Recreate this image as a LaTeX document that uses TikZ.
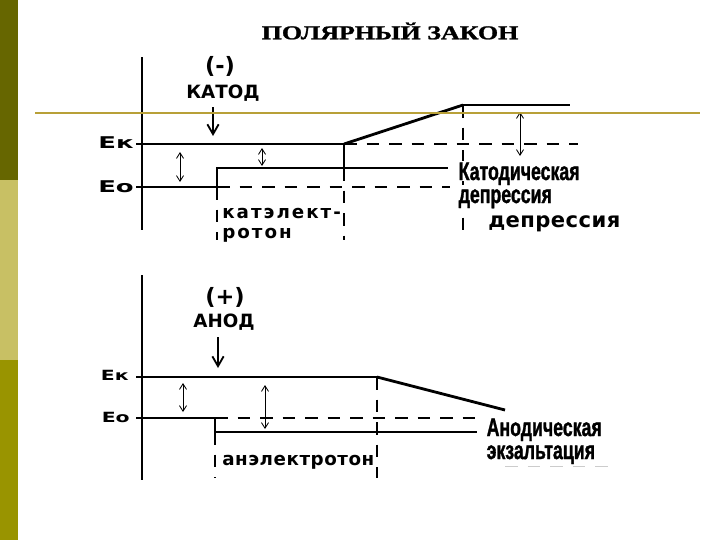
\documentclass[tikz,border=0pt]{standalone}
\usepackage{fontspec}
\usepackage{graphicx}
\setmainfont{Liberation Sans}
\newfontfamily\titlefont[FakeBold=1.2]{Liberation Serif}
\newfontfamily\widefont{DejaVu Sans}
\newfontfamily\impactfont[FakeBold=1.5]{Liberation Sans}
\usetikzlibrary{arrows.meta}

\definecolor{bardark}{RGB}{102,102,0}
\definecolor{barlight}{RGB}{200,192,100}
\definecolor{barolive}{RGB}{153,148,0}
\definecolor{rulegold}{RGB}{184,160,56}

\newcommand\stretchx[2]{\scalebox{#1}[1]{#2}}
\newcommand\heavy[1]{\scalebox{0.7}[1]{\impactfont\bfseries\fontsize{18}{18}\selectfont #1}}

\tikzset{
  level/.style={line width=1.4pt},
  slope/.style={line width=2pt},
  guide/.style={line width=0.9pt, dash pattern=on 9pt off 7pt},
  axis/.style={line width=0.8pt},
  gap/.style={{Straight Barb[length=4pt,width=5pt]}-{Straight Barb[length=4pt,width=5pt]}, line width=0.6pt},
  pole/.style={-{Straight Barb[length=7pt,width=8pt]}, line width=1.3pt},
  poletext/.style={font=\widefont\bfseries\fontsize{13}{15}\selectfont, inner sep=0pt},
  signtext/.style={font=\widefont\bfseries\fontsize{16}{16}\selectfont, inner sep=0pt},
  zonetext/.style={font=\widefont\bfseries\fontsize{13}{15}\selectfont, inner sep=0pt, anchor=base west},
  heavytext/.style={fill=white, inner sep=1pt, anchor=base west},
  axlabel/.style={inner sep=0pt, anchor=base east, font=\widefont\bfseries\fontsize{10}{10}\selectfont},
}

\begin{document}
\begin{tikzpicture}[x=0.025cm, y=-0.025cm]
\useasboundingbox (0,0) rectangle (720,540);

% side bar
\fill[bardark] (0,0) rectangle (18,180);
\fill[barlight] (0,180) rectangle (18,360);
\fill[barolive] (0,360) rectangle (18,540);

\node[inner sep=0pt] (title) at (390,31) {\stretchx{1.32}{\titlefont\bfseries\fontsize{14}{14}\selectfont ПОЛЯРНЫЙ ЗАКОН}};

%%%%% cathode
\draw[axis] (142,57)--(142,230);
\draw[axis] (136,144)--(142,144);
\draw[axis] (136,187)--(142,187);
\node[axlabel, font=\widefont\bfseries\fontsize{11.5}{12}\selectfont] (ek1) at (134,148) {\stretchx{1.6}{Eк}};
\node[axlabel, font=\widefont\bfseries\fontsize{11.5}{12}\selectfont] (eo1) at (134,192) {\stretchx{1.6}{Eо}};

\node[signtext] (minus) at (220,66) {(-)};
\node[poletext, anchor=base] (cathode) at (223,98) {КАТОД};
\coordinate (c0) at (213,107);
\coordinate (c1) at (213,136);
\draw[pole] (c0)--(c1);

\coordinate (a1) at (344,144);
\coordinate (a2) at (463,105);
\coordinate (b1) at (217,187);
\coordinate (b2) at (217,168);

\draw[guide] (a1)--(578,144);
\draw[guide] (b1)--(450,187);
\draw[guide] (b1)--(217,240);
\draw[guide] (344,168)--(344,240);
\draw[guide] (a2)--(463,237);

\draw[level] (142,144)--(a1)--(344,168);
\draw[slope] (a1)--(a2);
\draw[level] (a2)--(570,105);
\draw[level] (142,187)--(b1)--(b2)--(448,168);

\draw[gap] (180,152)--(180,182);
\draw[gap] (262,148)--(262,166);
\draw[gap] (520,156)--(520,112);

\node[zonetext, font=\widefont\bfseries\fontsize{13}{15}\selectfont\addfontfeature{LetterSpace=11}] (cat1) at (222,218) {катэлект-};
\node[zonetext, font=\widefont\bfseries\fontsize{13}{15}\selectfont\addfontfeature{LetterSpace=11}] (cat2) at (222,238) {ротон};
\node[zonetext, font=\widefont\bfseries\fontsize{15}{17}\selectfont\addfontfeature{LetterSpace=2}] (dep) at (488,227) {депрессия};

\node[heavytext, text depth=0pt] (cd1) at (457,180) {\heavy{Катодическая}};
\node[heavytext] (cd2) at (457,203) {\heavy{депрессия}};

%%%%% anode
\draw[axis] (142,275)--(142,480);
\draw[axis] (136,377)--(142,377);
\draw[axis] (136,418)--(142,418);
\node[axlabel] (ek2) at (129,380) {\stretchx{1.45}{Eк}};
\node[axlabel] (eo2) at (130,422) {\stretchx{1.45}{Eо}};

\node[signtext] (plus) at (225,297) {(+)};
\node[poletext, anchor=base] (anode) at (224,327) {АНОД};
\coordinate (d0) at (218,337);
\coordinate (d1) at (218,368);
\draw[pole] (d0)--(d1);

\coordinate (p1) at (377,377);
\coordinate (p2) at (505,410);
\coordinate (q1) at (215,418);
\coordinate (q2) at (215,432);

\draw[guide] (q1)--(477,418);
\draw[guide] (q2)--(215,478);
\draw[guide] (p1)--(377,478);
\draw[guide, gray!40, line width=0.6pt] (505,466)--(615,466);

\draw[level] (142,377)--(p1);
\draw[slope] (p1)--(p2);
\draw[level] (142,418)--(q1)--(q2);
\draw[slope] (q2)--(477,432);

\draw[gap] (183,383)--(183,412);
\draw[gap] (265,385)--(265,429);

\node[zonetext, font=\widefont\bfseries\fontsize{13}{15}\selectfont\addfontfeature{LetterSpace=3}] (anel) at (222,465) {анэлектротон};

\node[heavytext, text depth=0pt] (ae1) at (485,436) {\heavy{Анодическая}};
\node[heavytext] (ae2) at (485,459) {\heavy{экзальтация}};

\draw[rulegold, line width=1.2pt] (35,113)--(700,113);

\end{tikzpicture}
\end{document}
